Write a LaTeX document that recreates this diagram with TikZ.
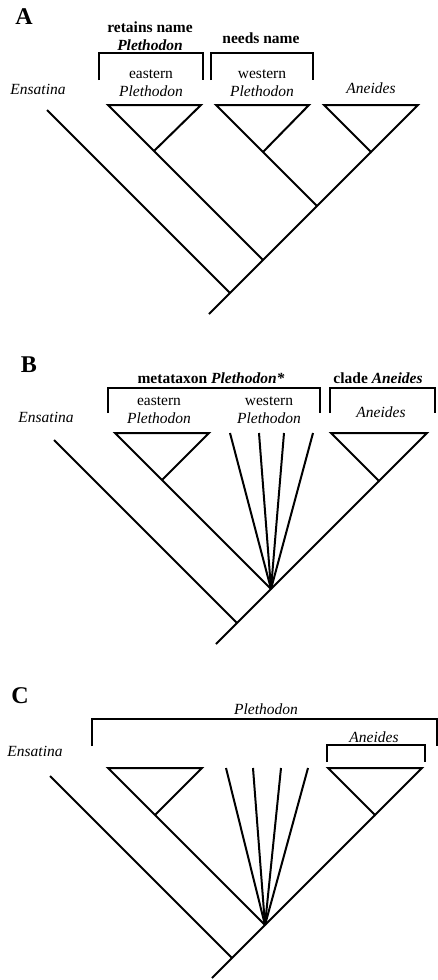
\documentclass[tikz,border=0pt]{standalone}
\usepackage{fontspec}
\setmainfont{Liberation Serif}
\usetikzlibrary{positioning}

\tikzset{
  branch/.style={line width=2pt},
  bracket/.style={line width=1.3pt},
  lbl/.style={font=\fontsize{15.5}{18}\selectfont, anchor=base, inner sep=0pt},
  taxon/.style={lbl, font=\fontsize{15.5}{18}\selectfont\itshape},
  head/.style={lbl, font=\fontsize{15.5}{18}\selectfont\bfseries},
  panel/.style={font=\fontsize{24}{27}\selectfont\bfseries, anchor=base, inner sep=0pt}
}

\begin{document}
\begin{tikzpicture}[x=1pt,y=-1pt]
   \useasboundingbox (0,0) rectangle (438,980);

   % ---- panel A
   \node[panel] (A) at (24,24) {A};
   \node[head] (A-ret) at (150,32) {retains name};
   \node[head, below=18pt of A-ret.base, anchor=base] (A-retP) {\textit{Plethodon}};
   \node[head] (A-need) at (261,43) {needs name};
   \node[lbl] (A-east) at (151,78) {eastern};
   \node[taxon, below=18pt of A-east.base, anchor=base] (A-eastP) {Plethodon};
   \node[lbl] (A-west) at (262,78) {western};
   \node[taxon, below=18pt of A-west.base, anchor=base] (A-westP) {Plethodon};
   \node[taxon] (A-ens-l) at (38,94) {Ensatina};
   \node[taxon] (A-ane-l) at (371,93) {Aneides};
   \draw[bracket] (99,80) -- (99,53) -- (203,53) -- (203,80);
   \draw[bracket] (211,80) -- (211,53) -- (313,53) -- (313,80);

   \coordinate (A-root) at (209,314);
   \coordinate (A-n1)   at (230,293);
   \coordinate (A-n2)   at (263,260);
   \coordinate (A-n3)   at (317,206);
   \coordinate (A-an)   at (371,152);
   \coordinate (A-ens)  at (47,110);
   \coordinate (A-etl)  at (108,105);
   \coordinate (A-etr)  at (201,105);
   \coordinate (A-eap)  at (154,151);
   \coordinate (A-wtl)  at (216,105);
   \coordinate (A-wtr)  at (309,105);
   \coordinate (A-wap)  at (263,152);
   \coordinate (A-atl)  at (324,105);
   \coordinate (A-atr)  at (418,105);
   \draw[branch] (A-root) -- (A-an);
   \draw[branch] (A-n1) -- (A-ens);
   \draw[branch] (A-n2) -- (A-etl) -- (A-etr) -- (A-eap);
   \draw[branch] (A-n3) -- (A-wtl) -- (A-wtr) -- (A-wap);
   \draw[branch] (A-an) -- (A-atl) -- (A-atr) -- cycle;

   % ---- panel B
   \node[panel] (B) at (29,372) {B};
   \node[head] (B-meta) at (211,383) {metataxon \textit{Plethodon*}};
   \node[head] (B-clade) at (378,383) {clade \textit{Aneides}};
   \node[lbl] (B-east) at (159,405) {eastern};
   \node[taxon, below=18pt of B-east.base, anchor=base] (B-eastP) {Plethodon};
   \node[lbl] (B-west) at (269,405) {western};
   \node[taxon, below=18pt of B-west.base, anchor=base] (B-westP) {Plethodon};
   \node[taxon] (B-ane-l) at (381,417) {Aneides};
   \node[taxon] (B-ens-l) at (46,422) {Ensatina};
   \draw[bracket] (108,413) -- (108,388) -- (320,388) -- (320,413);
   \draw[bracket] (330,413) -- (330,388) -- (435,388) -- (435,413);

   \coordinate (B-root) at (216,644);
   \coordinate (B-n1)   at (237,623);
   \coordinate (B-poly) at (271,589);
   \coordinate (B-an)   at (379,481);
   \coordinate (B-ens)  at (54,440);
   \coordinate (B-etl)  at (115,433);
   \coordinate (B-etr)  at (209,433);
   \coordinate (B-eap)  at (162,480);
   \coordinate (B-atl)  at (331,433);
   \coordinate (B-atr)  at (427,433);
   \foreach \x [count=\i] in {230,259,284,313}
      \coordinate (B-t\i) at (\x,433);
   \draw[branch] (B-root) -- (B-an);
   \draw[branch] (B-n1) -- (B-ens);
   \draw[branch] (B-poly) -- (B-etl) -- (B-etr) -- (B-eap);
   \foreach \i in {1,...,4}
      \draw[branch] (B-poly) -- (B-t\i);
   \draw[branch] (B-an) -- (B-atl) -- (B-atr) -- cycle;

   % ---- panel C
   \node[panel] (C) at (20,703) {C};
   \node[taxon] (C-pleth) at (266,714) {Plethodon};
   \node[taxon] (C-ane-l) at (374,742) {Aneides};
   \node[taxon] (C-ens-l) at (35,756) {Ensatina};
   \draw[bracket] (92,746) -- (92,719) -- (437,719) -- (437,746);
   \draw[bracket] (327,762) -- (327,745) -- (425,745) -- (425,762);

   \coordinate (C-root) at (212,978);
   \coordinate (C-n1)   at (232,958);
   \coordinate (C-poly) at (265,925);
   \coordinate (C-an)   at (375,815);
   \coordinate (C-ens)  at (50,776);
   \coordinate (C-etl)  at (108,768);
   \coordinate (C-etr)  at (202,768);
   \coordinate (C-eap)  at (155,815);
   \coordinate (C-atl)  at (328,768);
   \coordinate (C-atr)  at (422,768);
   \foreach \x [count=\i] in {226,253,281,308}
      \coordinate (C-t\i) at (\x,768);
   \draw[branch] (C-root) -- (C-an);
   \draw[branch] (C-n1) -- (C-ens);
   \draw[branch] (C-poly) -- (C-etl) -- (C-etr) -- (C-eap);
   \foreach \i in {1,...,4}
      \draw[branch] (C-poly) -- (C-t\i);
   \draw[branch] (C-an) -- (C-atl) -- (C-atr) -- cycle;
\end{tikzpicture}
\end{document}
